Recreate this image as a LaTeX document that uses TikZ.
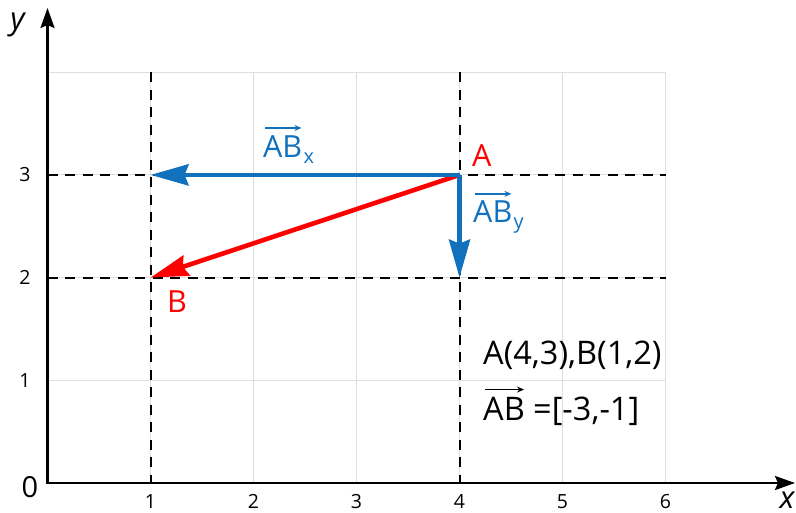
\documentclass[tikz,border=0pt]{standalone}
\usepackage{fontspec}
\setmainfont{Open Sans}
\usetikzlibrary{arrows.meta}
\definecolor{vblue}{RGB}{18,113,188}
\definecolor{vred}{RGB}{255,0,0}
\definecolor{gridgray}{RGB}{222,222,222}
\begin{document}
\begin{tikzpicture}[x=103pt,y=102.7pt,
  gridline/.style={gridgray, line width=1pt},
  dashline/.style={black, line width=2pt, dash pattern=on 10pt off 7.5pt},
  axisline/.style={black, line width=2.5pt, -{Stealth[length=20pt,width=14pt,inset=3pt]}},
  vecline/.style={line width=4.6pt, -{Stealth[length=38pt,width=21pt,inset=4pt]}},
  overarrow/.style={line width=1.4pt, -{Stealth[length=7pt,width=6pt]}},
  ticklbl/.style={font=\fontsize{19.5}{22}\selectfont, inner sep=1pt},
  axlbl/.style={font=\fontsize{31}{34}\selectfont\itshape},
  lbl/.style={font=\fontsize{30.5}{34}\selectfont, inner sep=0pt, anchor=base west},
  sub/.style={font=\fontsize{20}{22}\selectfont, inner sep=0pt, anchor=base west},
  txt/.style={font=\fontsize{32.5}{36}\selectfont, inner sep=0pt, anchor=base west}
]
\useasboundingbox (-0.4612,-0.2824) rectangle (7.2670,4.7030);
% grid
\foreach \i in {1,...,6} \draw[gridline] (\i,0) -- (\i,4);
\foreach \j in {1,...,4} \draw[gridline] (0,\j) -- (6,\j);
% dashed guide lines
\draw[dashline] (1,4) -- (1,0);
\draw[dashline] (4,4) -- (4,0);
\draw[dashline] (0,3) -- (6,3);
\draw[dashline] (0,2) -- (6,2);
% axes
\coordinate (O) at (0,0);
\coordinate (xend) at (7.257,0);
\coordinate (yend) at (0,4.625);
\draw[axisline] ([xshift=-1.25pt]O) -- (xend);
\draw[axisline] ([yshift=-1.25pt]O) -- (yend);
% tick labels
\foreach \i in {1,...,6} \node[ticklbl] (tx\i) at (\i,-0.18) {\i};
\foreach \j in {1,...,3} \node[ticklbl] (ty\j) at (-0.22,\j) {\j};
\node[font=\fontsize{29}{32}\selectfont] (zero) at (-0.17,-0.04) {0};
\node[axlbl] (ylbl) at (-0.29,4.46) {y};
\node[axlbl, inner sep=0pt] (xlbl) at (7.18,-0.165) {x};
% points
\coordinate (A) at (4,3);
\coordinate (B) at (1,2);
\coordinate (Bx) at (1,3);
\coordinate (By) at (4,2);
% vectors
\draw[vecline, vred] (A) -- (B);
\draw[vecline, vblue] (A) -- (Bx);
\draw[vecline, vblue] (A) -- (By);
% point labels
\node[lbl, text=vred] (Alb) at (4.121,3.077) {A};
\node[lbl, text=vred] (Blb) at (1.160,1.665) {B};
% AB_x
\node[lbl, text=vblue] (abx) at (2.092,3.174) {AB};
\node[sub, text=vblue] (abxs) at ([xshift=1pt,yshift=-6pt]abx.base east) {x};
\draw[overarrow, vblue] ([xshift=2pt,yshift=7pt]abx.north west) -- ([xshift=-1pt,yshift=7pt]abx.north east);
% AB_y
\node[lbl, text=vblue] (aby) at (4.131,2.532) {AB};
\node[sub, text=vblue] (abys) at ([xshift=1pt,yshift=-6pt]aby.base east) {y};
\draw[overarrow, vblue] ([xshift=2pt,yshift=7pt]aby.north west) -- ([xshift=-1pt,yshift=7pt]aby.north east);
% text block
\node[txt] (pts) at (4.228,1.149) {A(4,3),B(1,2)};
\node[txt] (ab) at (4.228,0.613) {AB};
\node[txt] (abval) at ([xshift=8pt]ab.base east) {=[-3,-1]};
\draw[overarrow, black] ([xshift=2pt,yshift=7pt]ab.north west) -- ([xshift=-1pt,yshift=7pt]ab.north east);
\end{tikzpicture}
\end{document}
